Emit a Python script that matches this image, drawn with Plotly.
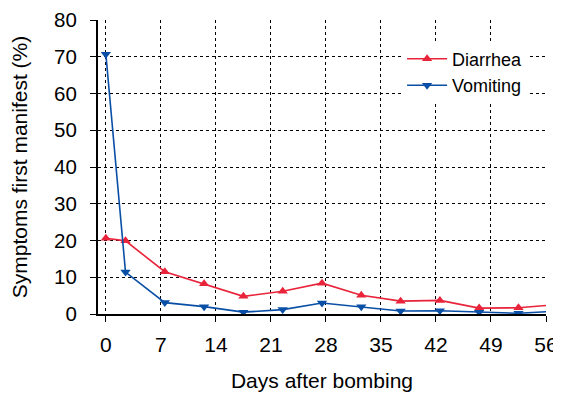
import plotly.graph_objects as go

# days after bombing (interval midpoints)
days = [0, 2.5, 7.5, 12.5, 17.5, 22.5, 27.5, 32.5, 37.5, 42.5, 47.5, 52.5, 57.5]
diarrhea = [20.6, 19.9, 11.5, 8.2, 4.8, 6.2, 8.4, 5.1, 3.5, 3.7, 1.6, 1.7, 2.6]
vomiting = [70.7, 11.4, 3.1, 2.0, 0.5, 1.2, 3.0, 2.0, 0.8, 0.9, 0.5, 0.2, 0.8]

x_ticks = [0, 7, 14, 21, 28, 35, 42, 49, 56]
y_ticks = [0, 10, 20, 30, 40, 50, 60, 70, 80]

red = "#e8233a"
blue = "#0a4fa6"

fig = go.Figure()
fig.add_trace(go.Scatter(x=days, y=diarrhea, name="Diarrhea", mode="lines+markers",
                         line=dict(color=red, width=1.6),
                         marker=dict(symbol="triangle-up", size=9, color=red)))
fig.add_trace(go.Scatter(x=days, y=vomiting, name="Vomiting", mode="lines+markers",
                         line=dict(color=blue, width=1.6),
                         marker=dict(symbol="triangle-down", size=9, color=blue)))

axis_common = dict(showgrid=True, gridcolor="black", griddash="dot", gridwidth=1,
                   zeroline=False, ticks="outside", tickcolor="black", ticklen=6,
                   tickwidth=1, showline=True, linecolor="black", linewidth=2,
                   mirror=False, automargin=False, ticklabeloverflow="allow")

fig.update_xaxes(range=[-1, 56], tickvals=x_ticks, title_text="Days after bombing",
                 tickfont=dict(size=21), ticklabelstandoff=5,
                 title_font=dict(size=21), title_standoff=18, **axis_common)
fig.update_yaxes(range=[0, 80], tickvals=y_ticks, title_text="Symptoms first manifest (%)",
                 tickfont=dict(size=20.5), ticklabelstandoff=9,
                 title_font=dict(size=21), title_standoff=21, **axis_common)

# the page body adds an 8px offset; margins compensate for it
fig.update_layout(
    width=561, height=394,
    margin=dict(l=90, r=23, t=12, b=88),
    plot_bgcolor="white", paper_bgcolor="white",
    font=dict(family="Liberation Sans, Arial, sans-serif", size=21, color="black"),
    showlegend=True,
    legend=dict(x=0.96, y=0.93, xanchor="right", yanchor="top", bgcolor="white",
                font=dict(size=18), itemwidth=40, tracegroupgap=0),
)

fig.write_html("out.html")
